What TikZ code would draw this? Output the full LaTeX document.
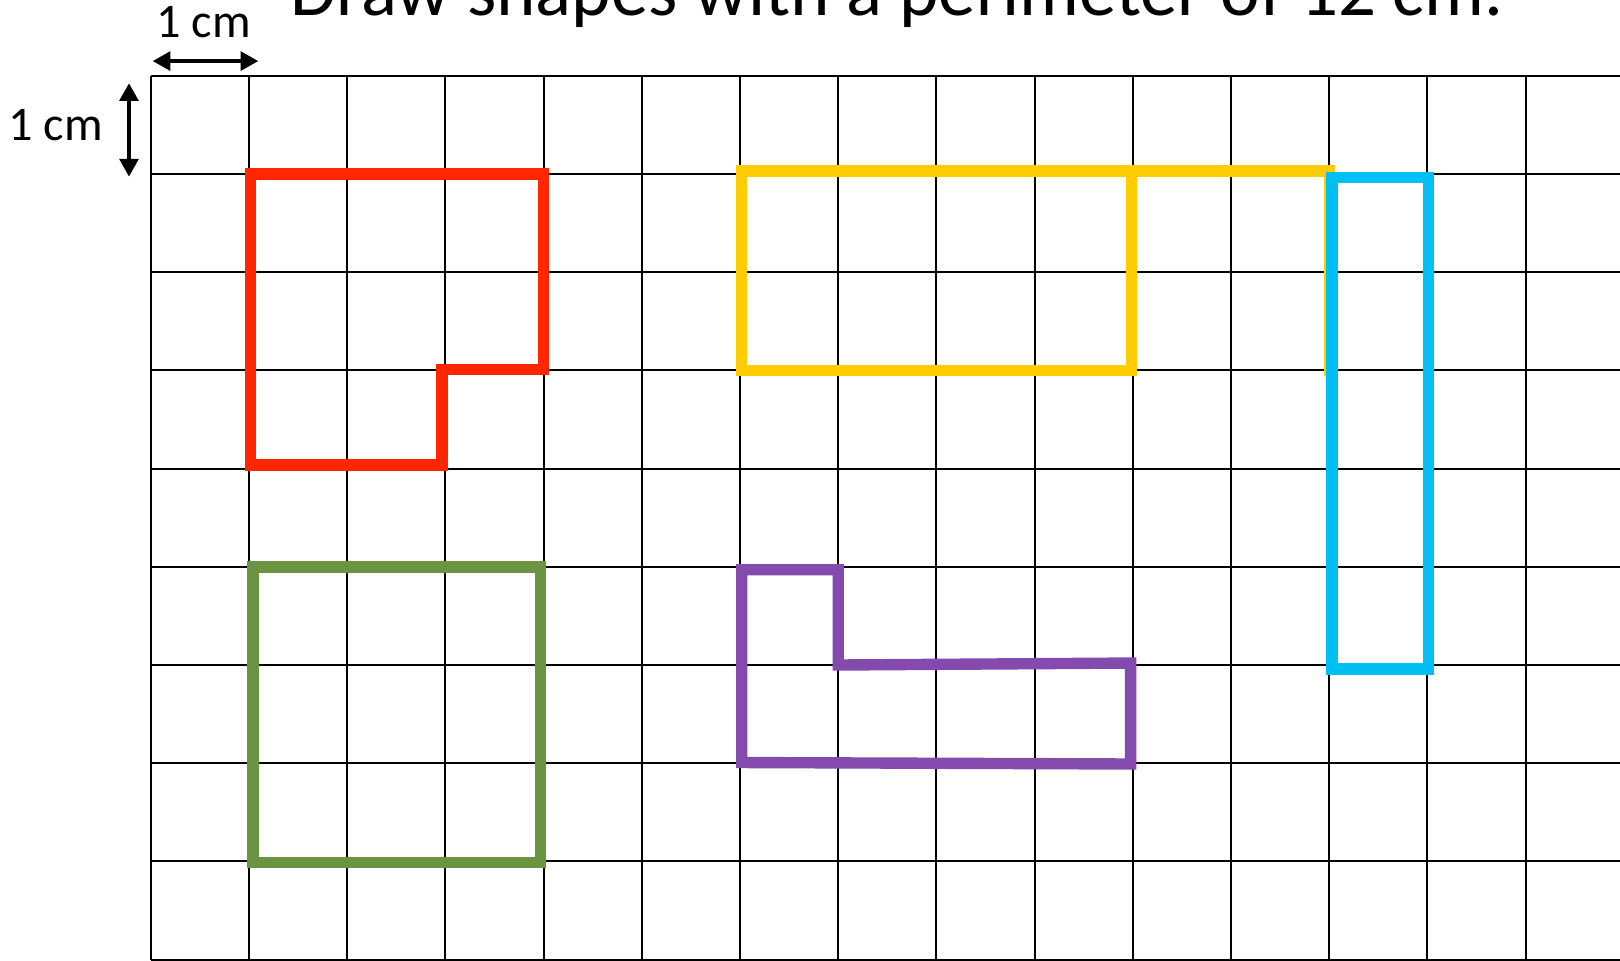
\documentclass[tikz,border=0pt]{standalone}
\usepackage{fontspec}
\setmainfont{Carlito}
\usetikzlibrary{arrows.meta}
\definecolor{shapered}{RGB}{255,38,0}
\definecolor{shapegreen}{RGB}{106,148,66}
\definecolor{shapeyellow}{RGB}{255,204,0}
\definecolor{shapepurple}{RGB}{133,74,173}
\definecolor{shapeblue}{RGB}{0,191,243}
\begin{document}
\begin{tikzpicture}
[gridline/.style={line width=0.6pt},%
  outline/.style={line width=3.3pt},%
  scalearrow/.style={{Triangle[length=1.8mm,width=1.9mm]}-{Triangle[length=1.8mm,width=1.9mm]},line width=1.1pt},%
  unittext/.style={anchor=base,inner sep=0pt,font=\fontsize{14}{17}\selectfont}]
%% page frame
\clip (-1.5356,-9.004) rectangle (14.961,0.7719);
%% squared paper
\draw[gridline] (0,-9) grid (15,0);
%% title and scale
\node (title) at (7.6,0.61) [anchor=base,inner sep=0pt,font=\fontsize{21.7}{26}\selectfont]
  {Draw shapes with a perimeter of 12 cm.};
\node (toplabel) at (0.537,0.392) [unittext] {1 cm};
\node (sidelabel) at (-0.97,-0.661) [unittext] {1 cm};
\coordinate (hleft) at (0.019,0.15);
\coordinate (hright) at (1.095,0.15);
\coordinate (vtop) at (-0.222,-0.076);
\coordinate (vbottom) at (-0.222,-1.027);
\draw[scalearrow] (hleft) -- (hright);
\draw[scalearrow] (vtop) -- (vbottom);
%% shapes
\draw[outline,shapered] (1.015,-1) -- (4,-1) -- (4,-2.99) -- (2.965,-2.99)
  -- (2.965,-3.963) -- (1.015,-3.963) -- cycle;
\draw[outline,shapegreen] (1.041,-5) rectangle (3.967,-8.01);
\draw[outline,shapeyellow,line cap=rect] (12,-3) -- (12,-0.971) -- (6.017,-0.971)
  -- (6.017,-3) -- (9.989,-3) -- (9.989,-0.971);
\draw[outline,shapepurple] (6.018,-5.03) -- (7,-5.03) -- (7,-6) -- (9.977,-5.98)
  -- (9.977,-7.008) -- (6.018,-6.993) -- cycle;
\draw[outline,shapeblue] (12.03,-1.033) rectangle (13.01,-6.04);
\end{tikzpicture}
\end{document}
